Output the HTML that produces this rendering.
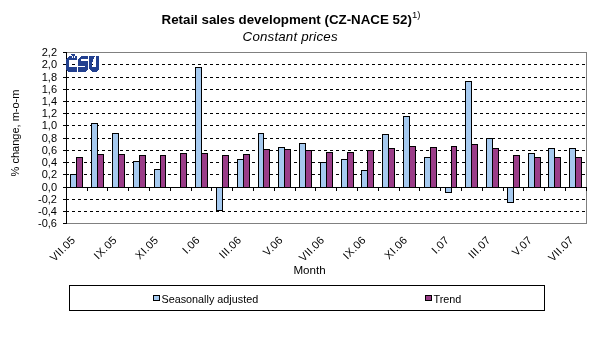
<!DOCTYPE html>
<html><head><meta charset="utf-8">
<style>
html,body{margin:0;padding:0;background:#fff;}
body{width:591px;height:360px;overflow:hidden;position:relative;}
svg{position:absolute;left:0;top:0;display:block;will-change:transform;}
text{font-family:"Liberation Sans", sans-serif;fill:#000;}
.ax{font-size:11px;}
.title{font-size:13.33px;font-weight:bold;}
.sup{font-size:9.5px;}
.sub{font-size:13.33px;font-style:italic;letter-spacing:0.17px;}
.xl{font-size:11px;letter-spacing:0.3px;}
</style></head>
<body>
<svg width="591" height="360" viewBox="0 0 591 360">
<g shape-rendering="crispEdges">
<path d="M66.5 52.5H586.5V223.5H66.5" fill="none" stroke="#808080" stroke-width="1"/>
<line x1="66" y1="64.5" x2="586" y2="64.5" stroke="#000" stroke-width="1" stroke-dasharray="3 3"/>
<line x1="66" y1="77.5" x2="586" y2="77.5" stroke="#000" stroke-width="1" stroke-dasharray="3 3"/>
<line x1="66" y1="89.5" x2="586" y2="89.5" stroke="#000" stroke-width="1" stroke-dasharray="3 3"/>
<line x1="66" y1="101.5" x2="586" y2="101.5" stroke="#000" stroke-width="1" stroke-dasharray="3 3"/>
<line x1="66" y1="113.5" x2="586" y2="113.5" stroke="#000" stroke-width="1" stroke-dasharray="3 3"/>
<line x1="66" y1="125.5" x2="586" y2="125.5" stroke="#000" stroke-width="1" stroke-dasharray="3 3"/>
<line x1="66" y1="138.5" x2="586" y2="138.5" stroke="#000" stroke-width="1" stroke-dasharray="3 3"/>
<line x1="66" y1="150.5" x2="586" y2="150.5" stroke="#000" stroke-width="1" stroke-dasharray="3 3"/>
<line x1="66" y1="162.5" x2="586" y2="162.5" stroke="#000" stroke-width="1" stroke-dasharray="3 3"/>
<line x1="66" y1="174.5" x2="586" y2="174.5" stroke="#000" stroke-width="1" stroke-dasharray="3 3"/>
<line x1="66" y1="199.5" x2="586" y2="199.5" stroke="#000" stroke-width="1" stroke-dasharray="3 3"/>
<line x1="66" y1="211.5" x2="586" y2="211.5" stroke="#000" stroke-width="1" stroke-dasharray="3 3"/>
<rect x="70.5" y="174.5" width="6" height="13" fill="#A6CAF0" stroke="#000"/>
<rect x="76.5" y="157.5" width="6" height="30" fill="#9A3D88" stroke="#000"/>
<rect x="91.5" y="123.5" width="6" height="64" fill="#A6CAF0" stroke="#000"/>
<rect x="97.5" y="154.5" width="6" height="33" fill="#9A3D88" stroke="#000"/>
<rect x="112.5" y="133.5" width="6" height="54" fill="#A6CAF0" stroke="#000"/>
<rect x="118.5" y="154.5" width="6" height="33" fill="#9A3D88" stroke="#000"/>
<rect x="133.5" y="161.5" width="6" height="26" fill="#A6CAF0" stroke="#000"/>
<rect x="139.5" y="155.5" width="6" height="32" fill="#9A3D88" stroke="#000"/>
<rect x="154.5" y="169.5" width="6" height="18" fill="#A6CAF0" stroke="#000"/>
<rect x="160.5" y="155.5" width="5" height="32" fill="#9A3D88" stroke="#000"/>
<rect x="180.5" y="153.5" width="6" height="34" fill="#9A3D88" stroke="#000"/>
<rect x="195.5" y="67.5" width="6" height="120" fill="#A6CAF0" stroke="#000"/>
<rect x="201.5" y="153.5" width="6" height="34" fill="#9A3D88" stroke="#000"/>
<rect x="216.5" y="187.5" width="6" height="23" fill="#A6CAF0" stroke="#000"/>
<rect x="222.5" y="155.5" width="6" height="32" fill="#9A3D88" stroke="#000"/>
<rect x="237.5" y="159.5" width="6" height="28" fill="#A6CAF0" stroke="#000"/>
<rect x="243.5" y="154.5" width="6" height="33" fill="#9A3D88" stroke="#000"/>
<rect x="258.5" y="133.5" width="5" height="54" fill="#A6CAF0" stroke="#000"/>
<rect x="263.5" y="149.5" width="6" height="38" fill="#9A3D88" stroke="#000"/>
<rect x="278.5" y="147.5" width="6" height="40" fill="#A6CAF0" stroke="#000"/>
<rect x="284.5" y="149.5" width="6" height="38" fill="#9A3D88" stroke="#000"/>
<rect x="299.5" y="143.5" width="6" height="44" fill="#A6CAF0" stroke="#000"/>
<rect x="305.5" y="150.5" width="6" height="37" fill="#9A3D88" stroke="#000"/>
<rect x="320.5" y="162.5" width="6" height="25" fill="#A6CAF0" stroke="#000"/>
<rect x="326.5" y="152.5" width="6" height="35" fill="#9A3D88" stroke="#000"/>
<rect x="341.5" y="159.5" width="6" height="28" fill="#A6CAF0" stroke="#000"/>
<rect x="347.5" y="152.5" width="6" height="35" fill="#9A3D88" stroke="#000"/>
<rect x="361.5" y="170.5" width="6" height="17" fill="#A6CAF0" stroke="#000"/>
<rect x="367.5" y="150.5" width="6" height="37" fill="#9A3D88" stroke="#000"/>
<rect x="382.5" y="134.5" width="6" height="53" fill="#A6CAF0" stroke="#000"/>
<rect x="388.5" y="148.5" width="6" height="39" fill="#9A3D88" stroke="#000"/>
<rect x="403.5" y="116.5" width="6" height="71" fill="#A6CAF0" stroke="#000"/>
<rect x="409.5" y="146.5" width="6" height="41" fill="#9A3D88" stroke="#000"/>
<rect x="424.5" y="157.5" width="6" height="30" fill="#A6CAF0" stroke="#000"/>
<rect x="430.5" y="147.5" width="6" height="40" fill="#9A3D88" stroke="#000"/>
<rect x="445.5" y="187.5" width="6" height="5" fill="#A6CAF0" stroke="#000"/>
<rect x="451.5" y="146.5" width="5" height="41" fill="#9A3D88" stroke="#000"/>
<rect x="465.5" y="81.5" width="6" height="106" fill="#A6CAF0" stroke="#000"/>
<rect x="471.5" y="144.5" width="6" height="43" fill="#9A3D88" stroke="#000"/>
<rect x="486.5" y="138.5" width="6" height="49" fill="#A6CAF0" stroke="#000"/>
<rect x="492.5" y="148.5" width="6" height="39" fill="#9A3D88" stroke="#000"/>
<rect x="507.5" y="187.5" width="6" height="15" fill="#A6CAF0" stroke="#000"/>
<rect x="513.5" y="155.5" width="6" height="32" fill="#9A3D88" stroke="#000"/>
<rect x="528.5" y="153.5" width="6" height="34" fill="#A6CAF0" stroke="#000"/>
<rect x="534.5" y="157.5" width="6" height="30" fill="#9A3D88" stroke="#000"/>
<rect x="548.5" y="148.5" width="6" height="39" fill="#A6CAF0" stroke="#000"/>
<rect x="554.5" y="157.5" width="6" height="30" fill="#9A3D88" stroke="#000"/>
<rect x="569.5" y="148.5" width="6" height="39" fill="#A6CAF0" stroke="#000"/>
<rect x="575.5" y="157.5" width="6" height="30" fill="#9A3D88" stroke="#000"/>
<line x1="66.5" y1="52" x2="66.5" y2="224" stroke="#000"/>
<line x1="63" y1="52.5" x2="67" y2="52.5" stroke="#000"/>
<line x1="63" y1="64.5" x2="67" y2="64.5" stroke="#000"/>
<line x1="63" y1="77.5" x2="67" y2="77.5" stroke="#000"/>
<line x1="63" y1="89.5" x2="67" y2="89.5" stroke="#000"/>
<line x1="63" y1="101.5" x2="67" y2="101.5" stroke="#000"/>
<line x1="63" y1="113.5" x2="67" y2="113.5" stroke="#000"/>
<line x1="63" y1="125.5" x2="67" y2="125.5" stroke="#000"/>
<line x1="63" y1="138.5" x2="67" y2="138.5" stroke="#000"/>
<line x1="63" y1="150.5" x2="67" y2="150.5" stroke="#000"/>
<line x1="63" y1="162.5" x2="67" y2="162.5" stroke="#000"/>
<line x1="63" y1="174.5" x2="67" y2="174.5" stroke="#000"/>
<line x1="63" y1="187.5" x2="67" y2="187.5" stroke="#000"/>
<line x1="63" y1="199.5" x2="67" y2="199.5" stroke="#000"/>
<line x1="63" y1="211.5" x2="67" y2="211.5" stroke="#000"/>
<line x1="63" y1="223.5" x2="67" y2="223.5" stroke="#000"/>
<line x1="63" y1="187.5" x2="587" y2="187.5" stroke="#000"/>
<line x1="66.5" y1="188" x2="66.5" y2="191" stroke="#000"/>
<line x1="87.5" y1="188" x2="87.5" y2="191" stroke="#000"/>
<line x1="107.5" y1="188" x2="107.5" y2="191" stroke="#000"/>
<line x1="128.5" y1="188" x2="128.5" y2="191" stroke="#000"/>
<line x1="149.5" y1="188" x2="149.5" y2="191" stroke="#000"/>
<line x1="170.5" y1="188" x2="170.5" y2="191" stroke="#000"/>
<line x1="191.5" y1="188" x2="191.5" y2="191" stroke="#000"/>
<line x1="211.5" y1="188" x2="211.5" y2="191" stroke="#000"/>
<line x1="232.5" y1="188" x2="232.5" y2="191" stroke="#000"/>
<line x1="253.5" y1="188" x2="253.5" y2="191" stroke="#000"/>
<line x1="274.5" y1="188" x2="274.5" y2="191" stroke="#000"/>
<line x1="295.5" y1="188" x2="295.5" y2="191" stroke="#000"/>
<line x1="315.5" y1="188" x2="315.5" y2="191" stroke="#000"/>
<line x1="336.5" y1="188" x2="336.5" y2="191" stroke="#000"/>
<line x1="357.5" y1="188" x2="357.5" y2="191" stroke="#000"/>
<line x1="378.5" y1="188" x2="378.5" y2="191" stroke="#000"/>
<line x1="399.5" y1="188" x2="399.5" y2="191" stroke="#000"/>
<line x1="419.5" y1="188" x2="419.5" y2="191" stroke="#000"/>
<line x1="440.5" y1="188" x2="440.5" y2="191" stroke="#000"/>
<line x1="461.5" y1="188" x2="461.5" y2="191" stroke="#000"/>
<line x1="482.5" y1="188" x2="482.5" y2="191" stroke="#000"/>
<line x1="503.5" y1="188" x2="503.5" y2="191" stroke="#000"/>
<line x1="523.5" y1="188" x2="523.5" y2="191" stroke="#000"/>
<line x1="544.5" y1="188" x2="544.5" y2="191" stroke="#000"/>
<line x1="565.5" y1="188" x2="565.5" y2="191" stroke="#000"/>
<line x1="586.5" y1="188" x2="586.5" y2="191" stroke="#000"/>
<g fill="#22408F" shape-rendering="crispEdges"><rect x="71" y="54" width="4" height="1"/><rect x="72" y="55" width="3" height="1"/><rect x="69" y="56" width="3" height="1"/><rect x="73" y="56" width="1" height="1"/><rect x="75" y="56" width="2" height="1"/><rect x="68" y="57" width="4" height="1"/><rect x="73" y="57" width="1" height="1"/><rect x="75" y="57" width="2" height="1"/><rect x="67" y="58" width="10" height="1"/><rect x="66" y="59" width="11" height="1"/><rect x="66" y="67" width="11" height="1"/><rect x="66" y="68" width="11" height="1"/><rect x="66" y="69" width="11" height="1"/><rect x="67" y="70" width="10" height="1"/><rect x="68" y="71" width="9" height="1"/><rect x="66" y="60" width="3" height="1"/><rect x="66" y="61" width="3" height="1"/><rect x="66" y="62" width="3" height="1"/><rect x="66" y="63" width="3" height="1"/><rect x="66" y="64" width="3" height="1"/><rect x="66" y="65" width="3" height="1"/><rect x="66" y="66" width="3" height="1"/><rect x="81" y="56" width="7" height="1"/><rect x="80" y="57" width="8" height="1"/><rect x="79" y="58" width="9" height="1"/><rect x="78" y="59" width="3" height="1"/><rect x="78" y="60" width="3" height="1"/><rect x="85" y="66" width="3" height="1"/><rect x="78" y="67" width="10" height="1"/><rect x="78" y="68" width="10" height="1"/><rect x="78" y="69" width="10" height="1"/><rect x="78" y="70" width="9" height="1"/><rect x="78" y="71" width="8" height="1"/><rect x="78" y="61" width="10" height="1"/><rect x="78" y="62" width="10" height="1"/><rect x="78" y="63" width="10" height="1"/><rect x="78" y="64" width="10" height="1"/><rect x="78" y="65" width="10" height="1"/><rect x="89" y="56" width="6" height="1"/><rect x="96" y="56" width="3" height="1"/><rect x="89" y="57" width="5" height="1"/><rect x="96" y="57" width="3" height="1"/><rect x="89" y="58" width="5" height="1"/><rect x="96" y="58" width="3" height="1"/><rect x="89" y="59" width="4" height="1"/><rect x="96" y="59" width="3" height="1"/><rect x="89" y="60" width="4" height="1"/><rect x="96" y="60" width="3" height="1"/><rect x="89" y="61" width="4" height="1"/><rect x="96" y="61" width="3" height="1"/><rect x="89" y="67" width="10" height="1"/><rect x="89" y="68" width="10" height="1"/><rect x="90" y="69" width="9" height="1"/><rect x="91" y="70" width="7" height="1"/><rect x="92" y="71" width="5" height="1"/><rect x="89" y="62" width="3" height="1"/><rect x="96" y="62" width="3" height="1"/><rect x="89" y="63" width="3" height="1"/><rect x="96" y="63" width="3" height="1"/><rect x="89" y="64" width="3" height="1"/><rect x="96" y="64" width="3" height="1"/><rect x="89" y="65" width="3" height="1"/><rect x="96" y="65" width="3" height="1"/><rect x="89" y="66" width="3" height="1"/><rect x="96" y="66" width="3" height="1"/></g>
<rect x="69.5" y="285.5" width="475" height="25" fill="none" stroke="#000"/><rect x="153.5" y="295.5" width="6" height="5" fill="#A6CAF0" stroke="#000"/><rect x="425.5" y="295.5" width="6" height="5" fill="#9A3D88" stroke="#000"/>
</g>
<text x="57" y="56" text-anchor="end" class="ax">2,2</text><text x="57" y="68" text-anchor="end" class="ax">2,0</text><text x="57" y="81" text-anchor="end" class="ax">1,8</text><text x="57" y="93" text-anchor="end" class="ax">1,6</text><text x="57" y="105" text-anchor="end" class="ax">1,4</text><text x="57" y="117" text-anchor="end" class="ax">1,2</text><text x="57" y="129" text-anchor="end" class="ax">1,0</text><text x="57" y="142" text-anchor="end" class="ax">0,8</text><text x="57" y="154" text-anchor="end" class="ax">0,6</text><text x="57" y="166" text-anchor="end" class="ax">0,4</text><text x="57" y="178" text-anchor="end" class="ax">0,2</text><text x="57" y="191" text-anchor="end" class="ax">0,0</text><text x="57" y="203" text-anchor="end" class="ax">-0,2</text><text x="57" y="215" text-anchor="end" class="ax">-0,4</text><text x="57" y="227" text-anchor="end" class="ax">-0,6</text><text transform="translate(70.4 235) rotate(-45)" text-anchor="end" class="xl" dy="8">VII.05</text><text transform="translate(111.9 235) rotate(-45)" text-anchor="end" class="xl" dy="8">IX.05</text><text transform="translate(153.4 235) rotate(-45)" text-anchor="end" class="xl" dy="8">XI.05</text><text transform="translate(194.9 235) rotate(-45)" text-anchor="end" class="xl" dy="8">I.06</text><text transform="translate(236.5 235) rotate(-45)" text-anchor="end" class="xl" dy="8">III.06</text><text transform="translate(278.0 235) rotate(-45)" text-anchor="end" class="xl" dy="8">V.06</text><text transform="translate(319.5 235) rotate(-45)" text-anchor="end" class="xl" dy="8">VII.06</text><text transform="translate(361.0 235) rotate(-45)" text-anchor="end" class="xl" dy="8">IX.06</text><text transform="translate(402.5 235) rotate(-45)" text-anchor="end" class="xl" dy="8">XI.06</text><text transform="translate(444.1 235) rotate(-45)" text-anchor="end" class="xl" dy="8">I.07</text><text transform="translate(485.6 235) rotate(-45)" text-anchor="end" class="xl" dy="8">III.07</text><text transform="translate(527.1 235) rotate(-45)" text-anchor="end" class="xl" dy="8">V.07</text><text transform="translate(568.6 235) rotate(-45)" text-anchor="end" class="xl" dy="8">VII.07</text><text x="309.5" y="274" text-anchor="middle" class="ax" style="font-size:11.6px">Month</text><text transform="translate(19 133) rotate(-90)" text-anchor="middle" class="ax">% change, m-o-m</text><text x="161.5" y="24" class="title">Retail sales development (CZ-NACE 52)</text><text x="412" y="18" class="sup">1)</text><text x="242.6" y="41" class="sub">Constant prices</text><text x="161.5" y="303" class="ax" style="font-size:10.8px">Seasonally adjusted</text><text x="433.5" y="303" class="ax" style="font-size:10.8px">Trend</text>
</svg>
</body></html>
